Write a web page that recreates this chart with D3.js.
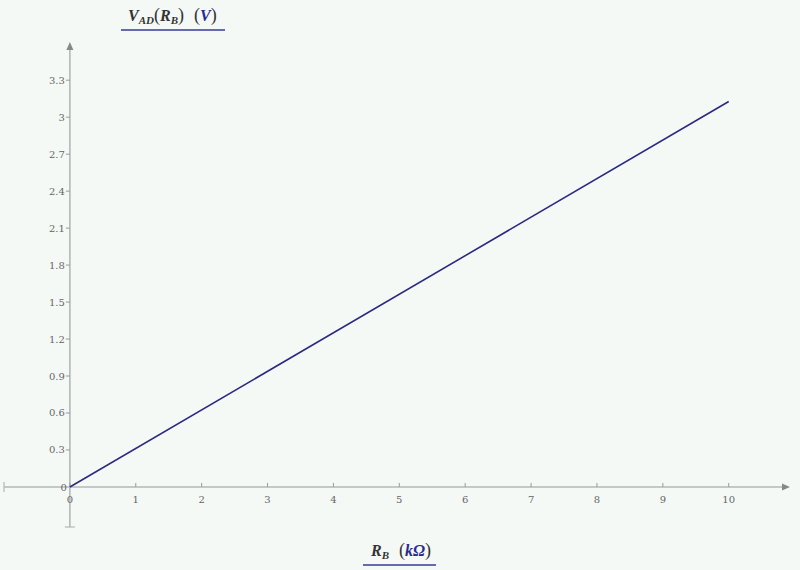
<!DOCTYPE html>
<html><head><meta charset="utf-8">
<script src="https://cdn.jsdelivr.net/npm/d3@7"></script>
<style>html,body{margin:0;padding:0;background:#f4f9f6;}</style>
</head><body>
<svg id="c" width="800" height="570"></svg>
<script>
const rbValues = [0, 10];
const vadValues = [0, 3.127];
const xTicks = [0,1,2,3,4,5,6,7,8,9,10];
const yTicks = [0.3,0.6,0.9,1.2,1.5,1.8,2.1,2.4,2.7,3,3.3];
const xDomain = [-1, 10.93];
const yDomain = [-0.325, 3.61];

const svg = d3.select("#c");
svg.append("rect").attr("width",800).attr("height",570).attr("fill","#f4f9f6");
const x = d3.scaleLinear().domain(xDomain).range([4, 790]);
const y = d3.scaleLinear().domain(yDomain).range([527, 42]);
const axisCol = "#b4b8b6", tickCol = "#999", labCol = "#666";
const x0 = x(0), y0 = y(0);

// x axis
svg.append("line").attr("x1",x(xDomain[0])).attr("x2",x(xDomain[1])-4).attr("y1",y0).attr("y2",y0).attr("stroke",axisCol).attr("stroke-width",1.6);
svg.append("line").attr("x1",x(xDomain[0])).attr("x2",x(xDomain[0])).attr("y1",y0-5).attr("y2",y0+5).attr("stroke",axisCol).attr("stroke-width",1.2);
svg.append("path").attr("d",`M${x(xDomain[1])},${y0} l-8,-3.5 l0,7 z`).attr("fill","#888");
// y axis
svg.append("line").attr("x1",x0).attr("x2",x0).attr("y1",y(yDomain[0])).attr("y2",y(yDomain[1])+4).attr("stroke",axisCol).attr("stroke-width",1.6);
svg.append("line").attr("x1",x0-5).attr("x2",x0+5).attr("y1",y(yDomain[0])).attr("y2",y(yDomain[0])).attr("stroke",axisCol).attr("stroke-width",1.2);
svg.append("path").attr("d",`M${x0},${y(yDomain[1])} l-3.5,8 l7,0 z`).attr("fill","#888");

const font = "'DejaVu Serif', 'Liberation Serif', serif";
// x ticks
const xt = svg.append("g");
xTicks.forEach(v=>{
  xt.append("line").attr("x1",x(v)).attr("x2",x(v)).attr("y1",y0-4).attr("y2",y0).attr("stroke",tickCol);
  xt.append("text").attr("x",x(v)).attr("y",y0+16).attr("text-anchor","middle").attr("font-family",font).attr("font-size",10).attr("fill",labCol).text(v);
});
// y ticks
const yt = svg.append("g");
yt.append("text").attr("x",x0-3).attr("y",y0+4).attr("text-anchor","end").attr("font-family",font).attr("font-size",10).attr("fill",labCol).text("0");
yTicks.forEach(v=>{
  yt.append("line").attr("x1",x0-4).attr("x2",x0).attr("y1",y(v)).attr("y2",y(v)).attr("stroke",tickCol);
  yt.append("text").attr("x",x0-5).attr("y",y(v)+3.5).attr("text-anchor","end").attr("font-family",font).attr("font-size",10).attr("fill",labCol).text(d3.format("~g")(v));
});

// line
const pts = rbValues.map((r,i)=>[r, vadValues[i]]);
svg.append("path").datum(pts).attr("d",d3.line().x(d=>x(d[0])).y(d=>y(d[1]))).attr("fill","none").attr("stroke","#2b2a80").attr("stroke-width",1.6);

// titles
const tfont = "'Liberation Serif', 'DejaVu Serif', serif";
const yTitle = svg.append("text").attr("x",128).attr("y",21).attr("font-family",tfont).attr("font-size",16).attr("font-style","italic").attr("font-weight","bold").attr("fill","#333");
yTitle.append("tspan").text("V");
yTitle.append("tspan").attr("font-size",11).attr("dy",3).text("AD");
yTitle.append("tspan").attr("dy",-3).attr("font-style","normal").attr("font-weight","normal").attr("font-size",18).text("(");
yTitle.append("tspan").text("R");
yTitle.append("tspan").attr("font-size",11).attr("dy",3).text("B");
yTitle.append("tspan").attr("dy",-3).attr("font-style","normal").attr("font-weight","normal").attr("font-size",18).text(")");
yTitle.append("tspan").attr("dx",10).attr("font-style","normal").attr("font-weight","normal").attr("font-size",18).text("(");
yTitle.append("tspan").attr("fill","#2a2a90").text("V");
yTitle.append("tspan").attr("font-style","normal").attr("font-weight","normal").attr("font-size",18).text(")");
svg.append("line").attr("x1",121).attr("x2",225).attr("y1",30).attr("y2",30).attr("stroke","#3a3a9a").attr("stroke-width",1.6);

const xTitle = svg.append("text").attr("x",371).attr("y",556).attr("font-family",tfont).attr("font-size",16).attr("font-style","italic").attr("font-weight","bold").attr("fill","#333");
xTitle.append("tspan").text("R");
xTitle.append("tspan").attr("font-size",11).attr("dy",3).text("B");
xTitle.append("tspan").attr("dy",-3).attr("dx",10).attr("font-style","normal").attr("font-weight","normal").attr("font-size",18).text("(");
xTitle.append("tspan").attr("fill","#2a2a90").text("kΩ");
xTitle.append("tspan").attr("font-style","normal").attr("font-weight","normal").attr("font-size",18).text(")");
svg.append("line").attr("x1",363).attr("x2",436).attr("y1",565).attr("y2",565).attr("stroke","#3a3a9a").attr("stroke-width",1.6);
</script>
</body></html>
